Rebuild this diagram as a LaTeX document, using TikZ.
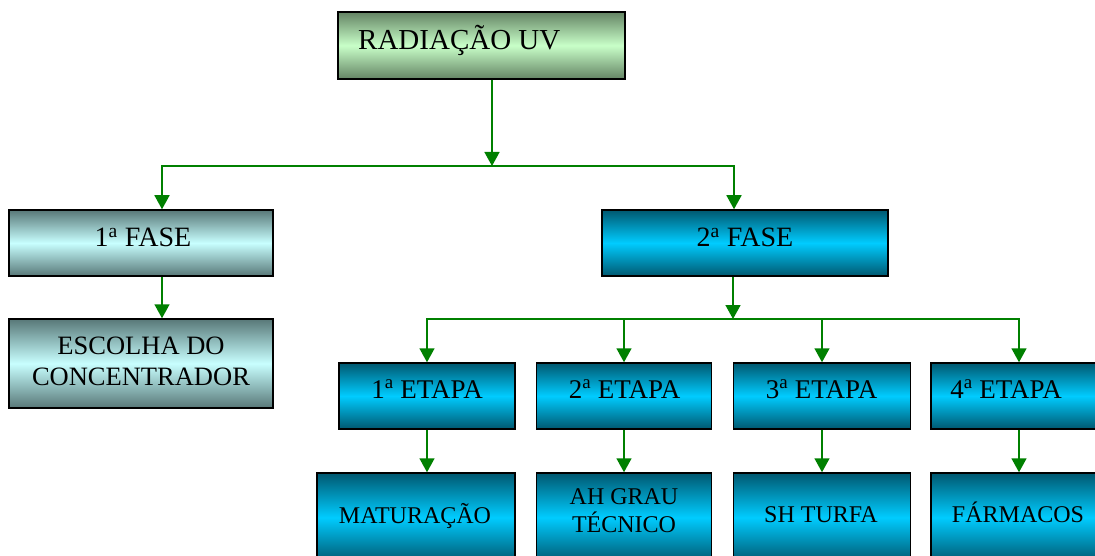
\documentclass[tikz,border=0pt]{standalone}
\usepackage{fontspec}
\setmainfont{Liberation Serif}
\usetikzlibrary{arrows.meta}
\definecolor{gdark}{RGB}{100,132,100}
\definecolor{glight}{RGB}{200,255,200}
\definecolor{cdark}{RGB}{88,120,120}
\definecolor{clight}{RGB}{200,255,255}
\definecolor{bdark}{RGB}{0,88,112}
\definecolor{blight}{RGB}{0,204,255}
\definecolor{arrgreen}{RGB}{0,128,0}
\begin{document}
\begin{tikzpicture}[x=1pt,y=-1pt,
  box/.style={draw=black, line width=1.5pt, rectangle, inner sep=0pt},
  gbox/.style={box, top color=gdark, bottom color=gdark, middle color=glight},
  cbox/.style={box, top color=cdark, bottom color=cdark, middle color=clight},
  bbox/.style={box, top color=bdark, bottom color=bdark, middle color=blight},
  arr/.style={draw=arrgreen, line width=1.6pt, -{Triangle[width=15pt,length=14pt]}},
  lne/.style={draw=arrgreen, line width=1.6pt},
  txt/.style={inner sep=0pt, text=black, anchor=base},
  fA/.style={font=\fontsize{29}{34}\selectfont},
  fB/.style={font=\fontsize{28}{33}\selectfont},
  fC/.style={font=\fontsize{27}{32}\selectfont},
  fD/.style={font=\fontsize{26.5}{31}\selectfont},
  fE/.style={font=\fontsize{24}{28}\selectfont}
]
\useasboundingbox (0,0) rectangle (1095,556);
\clip (0,0) rectangle (1095,556);

% boxes
\node[gbox, minimum width=287, minimum height=67] (title) at (481.5,45.5) {};
\node[cbox, minimum width=264, minimum height=66] (f1) at (141,243) {};
\node[cbox, minimum width=264, minimum height=89] (esc) at (141,363.5) {};
\node[bbox, minimum width=286, minimum height=66] (f2) at (745,243) {};
\node[bbox, minimum width=176, minimum height=66] (e1) at (427,396) {};
\node[bbox, minimum width=175, minimum height=66] (e2) at (624,396) {};
\node[bbox, minimum width=177, minimum height=66] (e3) at (822,396) {};
\node[bbox, minimum width=176, minimum height=66] (e4) at (1019,396) {};
\node[bbox, minimum width=198, minimum height=89] (b1) at (416,517.5) {};
\node[bbox, minimum width=175, minimum height=89] (b2) at (624,517.5) {};
\node[bbox, minimum width=177, minimum height=89] (b3) at (822,517.5) {};
\node[bbox, minimum width=176, minimum height=89] (b4) at (1019,517.5) {};

% texts
\node[txt, fA, anchor=base west] (titlet) at (358,50) {RADIAÇÃO UV};
\node[txt, fB] (f1t) at (143,247) {1\textsuperscript{a} FASE};
\node[txt, fB] (f2t) at (745,247) {2\textsuperscript{a} FASE};
\node[txt, fD] (esct1) at (141,354) {ESCOLHA DO};
\node[txt, fD] (esct2) at (141,385) {CONCENTRADOR};
\node[txt, fC] (e1t) at (427,398) {1\textsuperscript{a} ETAPA};
\node[txt, fC] (e2t) at (624.5,398) {2\textsuperscript{a} ETAPA};
\node[txt, fC] (e3t) at (821.5,398) {3\textsuperscript{a} ETAPA};
\node[txt, fC] (e4t) at (1006,398) {4\textsuperscript{a} ETAPA};
\node[txt, fE] (b1t) at (415,523) {MATURAÇÃO};
\node[txt, fE] (b2t1) at (624,504) {AH GRAU};
\node[txt, fE] (b2t2) at (624,532) {TÉCNICO};
\node[txt, fE] (b3t) at (821,522) {SH TURFA};
\node[txt, fE] (b4t) at (1018,522) {FÁRMACOS};

% junctions
\coordinate (j1) at (492,166);
\coordinate (j2) at (733,319);

% connectors
\draw[arr] ([xshift=10.5pt]title.south) -- (j1);
\draw[lne] ([xshift=20pt]f1.north |- j1) -- ([xshift=-10pt]f2.north |- j1);
\draw[arr] (j1) -| ([xshift=21pt]f1.north);
\draw[arr] (j1) -| ([xshift=-11pt]f2.north);
\draw[arr] ([xshift=21pt]f1.south) -- ([xshift=21pt]esc.north);
\draw[arr] ([xshift=-12pt]f2.south) -- (j2);
\draw[lne] (e1.north |- j2) -- (e4.north |- j2);
\draw[arr] (j2) -| (e1.north);
\draw[arr] (j2) -| (e2.north);
\draw[arr] (j2) -| (e3.north);
\draw[arr] (j2) -| (e4.north);
\draw[arr] (e1.south) -- (e1.south |- b1.north);
\draw[arr] (e2.south) -- (e2.south |- b2.north);
\draw[arr] (e3.south) -- (e3.south |- b3.north);
\draw[arr] (e4.south) -- (e4.south |- b4.north);
\end{tikzpicture}
\end{document}
